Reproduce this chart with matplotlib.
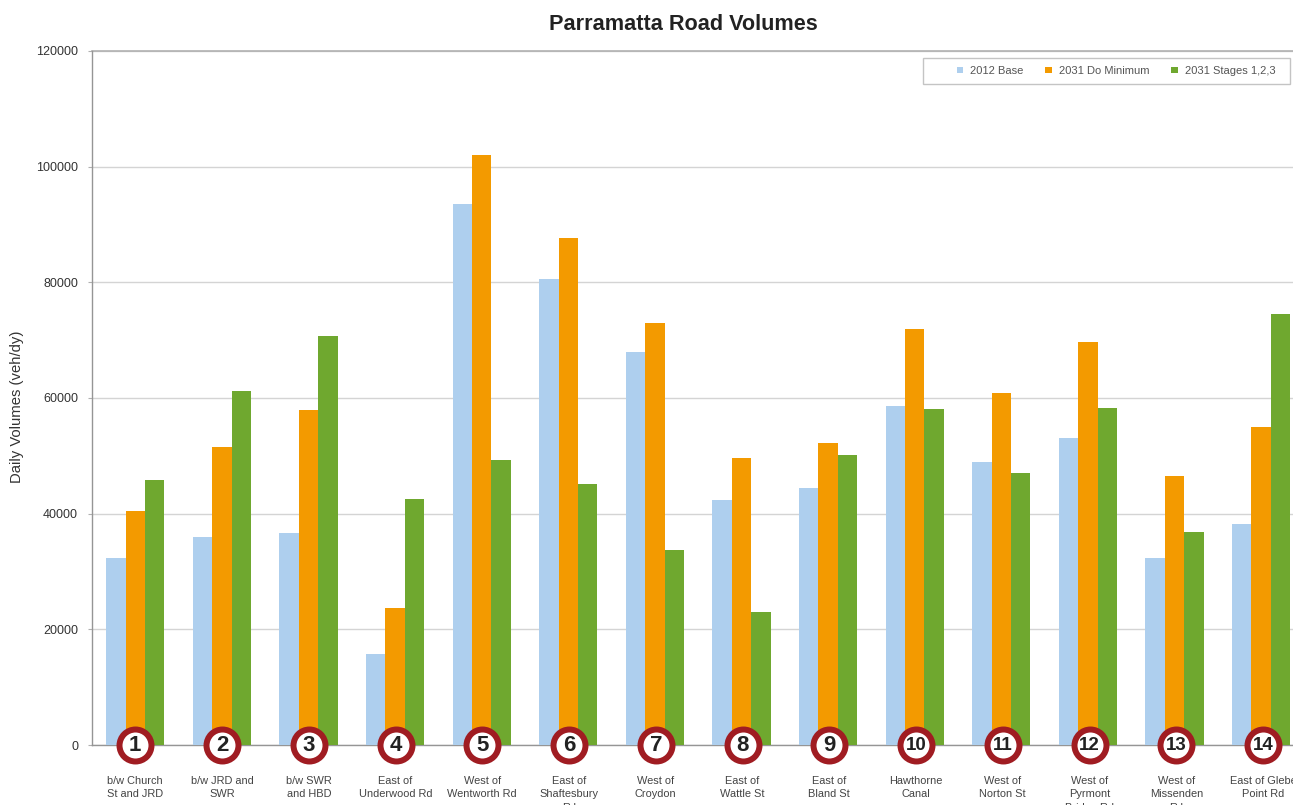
import numpy as np
import matplotlib
matplotlib.use("Agg")
import matplotlib.pyplot as plt
from matplotlib.patches import Rectangle

plt.rcParams['font.family'] = ['Liberation Sans', 'DejaVu Sans']

categories = ["b/w Church\nSt and JRD", "b/w JRD and\nSWR", "b/w SWR\nand HBD", "East of\nUnderwood Rd",
              "West of\nWentworth Rd", "East of\nShaftesbury\nRd", "West of\nCroydon", "East of\nWattle St",
              "East of\nBland St", "Hawthorne\nCanal", "West of\nNorton St", "West of\nPyrmont\nBridge Rd",
              "West of\nMissenden\nRd", "East of Glebe\nPoint Rd"]
base_2012 = [32300, 35900, 36700, 15700, 93600, 80600, 68000, 42400, 44500, 58700, 49000, 53000, 32300, 38200]
do_min_2031 = [40500, 51500, 58000, 23700, 102000, 87700, 72900, 49700, 52200, 72000, 60800, 69700, 46500, 55000]
stages_2031 = [45800, 61200, 70700, 42600, 49200, 45200, 33800, 23000, 50200, 58100, 47000, 58200, 36800, 74500]
series_names = ["2012 Base", "2031 Do Minimum", "2031 Stages 1,2,3"]
y_ticks = [0, 20000, 40000, 60000, 80000, 100000, 120000]

W, H = 1293, 805
fig = plt.figure(figsize=(W / 100, H / 100), dpi=100, facecolor='white')
ax = fig.add_axes([92 / W, 1 - 745 / H, (W - 92) / W, 694 / H])

x = np.arange(len(categories))
bw = 19.4 / 86.6
colors = ['#AECFEE', '#F39A00', '#6FA82F']
for i, (vals, c, name) in enumerate(zip([base_2012, do_min_2031, stages_2031], colors, series_names)):
    ax.bar(x + (i - 1) * bw, vals, bw, color=c, label=name, zorder=3)

# Road markers and their captions sit on a very slightly wider pitch than the bars
label_x = x * 86.75 / 86.6

ax.set_xlim(-0.5, (W - 92) / 86.6 - 0.5)
ax.set_ylim(0, 120000)
ax.set_yticks(y_ticks)
ax.tick_params(axis='y', labelsize=9, length=3, color='#b0b0b0', labelcolor='#333333', pad=7)
ax.set_xticks(label_x)
ax.set_xticklabels(categories, fontsize=7.9, color='#444444', linespacing=1.44)
ax.tick_params(axis='x', length=0, pad=22)
ax.grid(axis='y', color='#d4d4d4', lw=1, zorder=0)
ax.set_axisbelow(True)
for s in ['top', 'right']:
    ax.spines[s].set_visible(False)
for s in ['left', 'bottom']:
    ax.spines[s].set_color('#959595')
    ax.spines[s].set_linewidth(1)
ax.axhline(120000, color='#b0b0b0', lw=1.2, clip_on=False, zorder=1)

ax.set_ylabel("Daily Volumes (veh/dy)", fontsize=10.7, color='#333333')
ax.yaxis.set_label_coords((24 - 92) / (W - 92), (745 - 407) / 694)
fig.text(683 / W, 1 - 24 / H, "Parramatta Road Volumes", fontsize=15.6, fontweight='bold',
         color='#222222', ha='center', va='center')

# Numbered road markers
ax.scatter(label_x, np.zeros(len(x)), s=530, marker='o', facecolor='white', edgecolor='#A01C22',
           linewidth=4.3, clip_on=False, zorder=6)
for xi, lx in zip(x, label_x):
    ax.text(lx, 0, str(xi + 1), ha='center', va='center', fontsize=16 if xi < 9 else 13.5,
            fontweight='bold', color='#222222', zorder=7, clip_on=False)

# Legend box is wider than its entries, with extra room on the left
fig.add_artist(Rectangle((923 / W, 1 - 84 / H), 367 / W, 26 / H, transform=fig.transFigure,
                         facecolor='white', edgecolor='#c4c4c4', lw=1, zorder=7))
leg = ax.legend(loc='center right', bbox_to_anchor=(1276 / W, 1 - 71 / H), bbox_transform=fig.transFigure,
                ncol=3, fontsize=8, frameon=False, borderaxespad=0, borderpad=0,
                handlelength=0.55, handleheight=0.55, handletextpad=0.7, columnspacing=1.95,
                labelcolor='#555555')
leg.set_zorder(8)
fig.add_artist(leg)

fig.savefig("out.png", dpi=100)
